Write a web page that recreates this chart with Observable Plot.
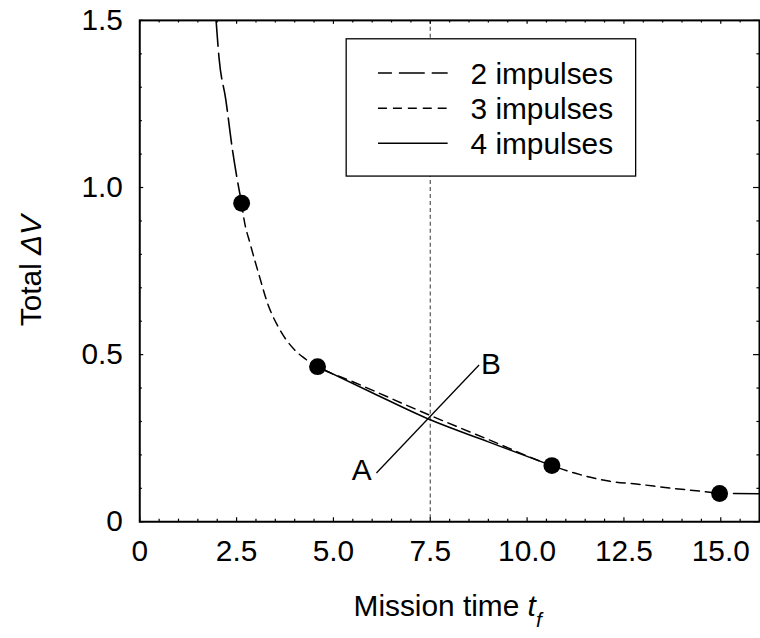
<!DOCTYPE html>
<html><head><meta charset="utf-8">
<script src="https://cdn.jsdelivr.net/npm/d3@7"></script>
<script src="https://cdn.jsdelivr.net/npm/@observablehq/plot@0.6"></script>
<style>
html,body{margin:0;padding:0;background:#fff;overflow:hidden;}
#wrap{width:760px;height:638px;overflow:hidden;position:relative;}
</style></head><body><div id="wrap"></div>
<script>
// ---- data ----
const twoImp_t  = [1.97, 2.05, 2.22, 2.39, 2.56, 2.63];
const twoImp_dv = [1.50, 1.384, 1.264, 1.115, 0.996, 0.953];
const twoImpTail_t  = [14.97, 16.0];
const twoImpTail_dv = [0.0845, 0.084];
const threeImp_t  = [2.63, 2.69, 2.85, 3.08, 3.31, 3.57, 4.0, 4.23, 4.59, 5.5, 7.5, 9.0, 10.64, 10.94, 11.37, 12.14, 12.82, 13.67, 14.66, 14.97];
const threeImp_dv = [0.953, 0.906, 0.832, 0.738, 0.650, 0.584, 0.514, 0.491, 0.464, 0.419, 0.318, 0.246, 0.168, 0.156, 0.141, 0.121, 0.113, 0.101, 0.089, 0.0845];
const fourImp_t  = [4.59, 6.0, 7.5, 9.0, 10.64];
const fourImp_dv = [0.464, 0.386, 0.305, 0.239, 0.168];
const dot_t  = [2.63, 4.59, 10.64, 14.97];
const dot_dv = [0.953, 0.464, 0.168, 0.0845];
const markerT = [7.5];
const labelNames = ["A", "B"];
const label_t  = [5.73, 9.07];
const label_dv = [0.154, 0.471];
const leader_t  = [6.11, 8.76];
const leader_dv = [0.146, 0.469];
const legendLabels = ["2 impulses", "3 impulses", "4 impulses"];
const xTicks = [0, 2.5, 5, 7.5, 10, 12.5, 15];
const yTicks = [0, 0.5, 1.0, 1.5];

// ---- styles ----
const dashStyle = {"2 impulses": "26,7", "3 impulses": "9,6", "4 impulses": null};
const FONT = "'Liberation Sans', Arial, sans-serif";
const FS = 30;

const W = 764, H = 638, mL = 140, mR = 1, mT = 20, mB = 114;
const fw = W - mL - mR, fh = H - mT - mB;

const toPts = (ts, vs) => ts.map((t, i) => ({t, v: vs[i]}));
const two = toPts(twoImp_t, twoImp_dv);
const twoTail = toPts(twoImpTail_t, twoImpTail_dv);
const three = toPts(threeImp_t, threeImp_dv);
const four = toPts(fourImp_t, fourImp_dv);
const dots = toPts(dot_t, dot_dv);
const labels = labelNames.map((n, i) => ({n, t: label_t[i], v: label_dv[i]}));
const leader = [{x1: leader_t[0], y1: leader_dv[0], x2: leader_t[1], y2: leader_dv[1]}];

const xMinor = d3.range(0, 16.001, 0.5).filter(d => Math.abs(d / 2.5 - Math.round(d / 2.5)) > 1e-6);
const yMinor = d3.range(0, 1.5001, 0.1).filter(d => Math.abs(d / 0.5 - Math.round(d / 0.5)) > 1e-6);

function legendMark(index, scales, values, dims) {
  const g = d3.create("svg:g").attr("font-family", FONT).attr("text-anchor", "start");
  g.append("rect").attr("x", 348).attr("y", 39).attr("width", 291).attr("height", 138)
    .attr("fill", "white").attr("stroke", "black").attr("stroke-width", 1.3);
  legendLabels.forEach((lab, i) => {
    const y = 73.3 + i * 35.4;
    const ln = g.append("line").attr("x1", 380).attr("x2", 450).attr("y1", y).attr("y2", y)
      .attr("stroke", "black").attr("stroke-width", 1.5);
    if (dashStyle[lab]) ln.attr("stroke-dasharray", dashStyle[lab]);
    if (i === 0) ln.attr("stroke-dashoffset", 12);
    g.append("text").attr("x", 473).attr("y", y).attr("dy", "0.36em").attr("text-anchor", "start")
      .attr("font-size", FS).attr("fill", "black").text(lab);
  });
  return g.node();
}

const chart = Plot.plot({
  width: W, height: H,
  marginLeft: mL, marginRight: mR, marginTop: mT, marginBottom: mB,
  style: {fontFamily: FONT, background: "white", color: "black"},
  x: {domain: [0, 16], label: null},
  y: {domain: [0, 1.5], label: null},
  marks: [
    Plot.ruleX(markerT, {stroke: "#555", strokeWidth: 1.2, strokeDasharray: "4,3"}),
    Plot.link(leader, {x1: "x1", y1: "y1", x2: "x2", y2: "y2", stroke: "black", strokeWidth: 1.3}),
    Plot.line(two, {x: "t", y: "v", stroke: "black", strokeWidth: 1.6, strokeDasharray: dashStyle["2 impulses"], curve: "monotone-x", clip: true}),
    Plot.line(twoTail, {x: "t", y: "v", stroke: "black", strokeWidth: 1.6, strokeDasharray: dashStyle["2 impulses"], strokeDashoffset: 19, clip: true}),
    Plot.line(three, {x: "t", y: "v", stroke: "black", strokeWidth: 1.5, strokeDasharray: dashStyle["3 impulses"], curve: "monotone-x"}),
    Plot.line(four, {x: "t", y: "v", stroke: "black", strokeWidth: 1.5, curve: "monotone-x"}),
    Plot.dot(dots, {x: "t", y: "v", r: 8.5, fill: "black", stroke: "none"}),
    Plot.text(labels, {x: "t", y: "v", text: "n", fontSize: FS, fill: "black"}),
    // frame and inward ticks
    Plot.frame({stroke: "black", strokeWidth: 2}),
    Plot.tickX(xTicks, {x: d => d, insetTop: fh - 4, stroke: "black", strokeWidth: 1.2}),
    Plot.tickX(xMinor, {x: d => d, insetTop: fh - 2.6, stroke: "black", strokeWidth: 1.2}),
    Plot.tickX(xTicks, {x: d => d, insetBottom: fh - 4, stroke: "black", strokeWidth: 1.2}),
    Plot.tickX(xMinor, {x: d => d, insetBottom: fh - 2.6, stroke: "black", strokeWidth: 1.2}),
    Plot.tickY(yTicks, {y: d => d, insetRight: fw - 4, stroke: "black", strokeWidth: 1.2}),
    Plot.tickY(yMinor, {y: d => d, insetRight: fw - 2.6, stroke: "black", strokeWidth: 1.2}),
    Plot.tickY(yTicks, {y: d => d, insetLeft: fw - 6, stroke: "black", strokeWidth: 1.2}),
    Plot.tickY(yMinor, {y: d => d, insetLeft: fw - 2.6, stroke: "black", strokeWidth: 1.2}),
    Plot.axisX({ticks: xTicks, tickFormat: d => d === 0 ? "0" : d.toFixed(1), tickSize: 0, tickPadding: 18, fontSize: FS, label: null}),
    Plot.axisY({ticks: yTicks, tickFormat: d => d === 0 ? "0" : d.toFixed(1), tickSize: 0, tickPadding: 17, fontSize: FS, label: null}),
    legendMark
  ]
});

const svg = d3.select(chart);
// x axis title
const xt = svg.append("text").attr("x", 450).attr("y", 619).attr("text-anchor", "middle")
  .attr("font-family", FONT).attr("font-size", FS).attr("fill", "black");
xt.append("tspan").text("Mission time ");
xt.append("tspan").attr("font-style", "italic").text("t");
xt.append("tspan").attr("font-style", "italic").attr("font-size", 21).attr("dy", 11).text("f");
// y axis title
const yt = svg.append("text").attr("transform", "translate(41,272) rotate(-90)").attr("text-anchor", "middle")
  .attr("font-family", FONT).attr("font-size", FS).attr("fill", "black");
yt.append("tspan").text("Total ");
yt.append("tspan").attr("font-style", "italic").text("\u0394V");

document.getElementById("wrap").appendChild(chart);
</script>
</body></html>
